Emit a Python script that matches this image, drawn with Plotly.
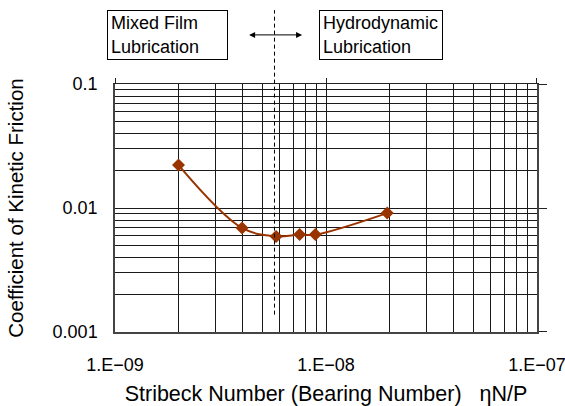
import math
import plotly.graph_objects as go

# ---- data ----
stribeck = [2.0e-9, 4.0e-9, 5.8e-9, 7.5e-9, 8.9e-9, 1.95e-8]
friction = [0.0222, 0.0069, 0.0059, 0.0061, 0.0061, 0.0091]

x_decades = [1e-9, 1e-8, 1e-7]
x_decade_labels = ["1.E\u221209", "1.E\u221208", "1.E\u221207"]
y_decades = [0.001, 0.01, 0.1]
y_decade_labels = ["0.001", "0.01", "0.1"]
boundary_x = 5.7e-9
arrow_from = 4.25e-9
arrow_to = 7.7e-9

mixed_label = "Mixed Film<br>Lubrication"
hydro_label = "Hydrodynamic<br>Lubrication"
x_title = "Stribeck Number (Bearing Number)   \u03b7N/P"
y_title = "Coefficient of Kinetic Friction"

x_grid = []
x_text = []
for i, d in enumerate(x_decades[:-1]):
    for m in range(1, 10):
        x_grid.append(m * d)
        x_text.append(x_decade_labels[i] if m == 1 else "")
x_grid.append(x_decades[-1]); x_text.append(x_decade_labels[-1])

y_grid = []
y_text = []
for i, d in enumerate(y_decades[:-1]):
    for m in range(1, 10):
        y_grid.append(m * d)
        y_text.append(y_decade_labels[i] if m == 1 else "")
y_grid.append(y_decades[-1]); y_text.append(y_decade_labels[-1])

FONT = "Liberation Sans, Arial, sans-serif"
COL = "#993300"
GRID = "#1a1a1a"

fig = go.Figure()
fig.add_trace(go.Scatter(
    x=stribeck, y=friction, mode="lines+markers",
    line=dict(color=COL, width=2, shape="spline", smoothing=1.0),
    marker=dict(symbol="diamond", size=10, color=COL),
    showlegend=False, hoverinfo="skip"))
fig.add_trace(go.Scatter(x=[], y=[], xaxis="x2", yaxis="y2",
                         showlegend=False, hoverinfo="skip"))

eps = 1e-4
xr = [math.log10(x_decades[0]) - eps, math.log10(x_decades[-1]) + eps]
yr = [math.log10(y_decades[0]) - eps, math.log10(y_decades[-1]) + eps]

fig.update_layout(
    width=565, height=406,
    margin=dict(l=115, r=28, t=84, b=74, autoexpand=False),
    paper_bgcolor="white", plot_bgcolor="white",
    font=dict(family=FONT, size=18, color="black"),
    xaxis=dict(type="log", range=xr, tickmode="array", tickvals=x_grid,
               ticktext=x_text, showgrid=True, gridcolor=GRID, gridwidth=1,
               showline=True, linecolor="#444", linewidth=1.5, ticks="",
               ticklabelstandoff=16, zeroline=False, automargin=False,
               ticklabeloverflow="allow",
               tickfont=dict(size=18),
               title=dict(text=x_title, standoff=15, font=dict(size=21.5))),
    yaxis=dict(type="log", range=yr, tickmode="array", tickvals=y_grid,
               ticktext=y_text, showgrid=True, gridcolor=GRID, gridwidth=1,
               showline=True, linecolor="#444", linewidth=1.5, ticks="",
               ticklabelstandoff=12, zeroline=False, automargin=False,
               ticklabeloverflow="allow",
               tickfont=dict(size=18),
               title=dict(text=y_title, standoff=23, font=dict(size=20.5))),
    xaxis2=dict(type="log", range=xr, overlaying="x", side="top",
                anchor="y", tickmode="array", tickvals=x_decades,
                ticks="outside", ticklen=5, tickcolor="#222",
                showticklabels=False, showgrid=False, showline=True,
                linecolor="#222", linewidth=1, automargin=False),
    yaxis2=dict(type="log", range=yr, overlaying="y", side="right",
                anchor="x", tickmode="array", tickvals=y_decades,
                ticks="outside", ticklen=8, tickcolor="#222",
                showticklabels=False, showgrid=False, showline=True,
                linecolor="#444", linewidth=1.5, automargin=False),
)

# boundary dashed line
fig.add_shape(type="line", xref="x", yref="paper",
              x0=boundary_x, x1=boundary_x, y0=0.07, y1=1.298,
              line=dict(color="black", width=1, dash="4px,3px"))

# double arrow
fig.add_annotation(x=math.log10(arrow_to), y=1.198, xref="x", yref="paper",
                   ax=math.log10(arrow_from), ay=0, axref="x", ayref="pixel",
                   text="", showarrow=True, arrowside="end+start",
                   arrowhead=2, arrowsize=1.2, arrowwidth=1, arrowcolor="black")

# label boxes
fig.add_annotation(x=-0.019, y=1.298, xref="paper", yref="paper",
                   xanchor="left", yanchor="top", text=mixed_label,
                   showarrow=False, align="left", width=113, height=42,
                   borderpad=3, bordercolor="black", borderwidth=1,
                   bgcolor="white", font=dict(size=18))
fig.add_annotation(x=(319 - 115) / 422, y=1.298, xref="paper", yref="paper",
                   xanchor="left", yanchor="top", text=hydro_label,
                   showarrow=False, align="left", width=116, height=42,
                   borderpad=3, bordercolor="black", borderwidth=1,
                   bgcolor="white", font=dict(size=18))

fig.write_html("out.html")
